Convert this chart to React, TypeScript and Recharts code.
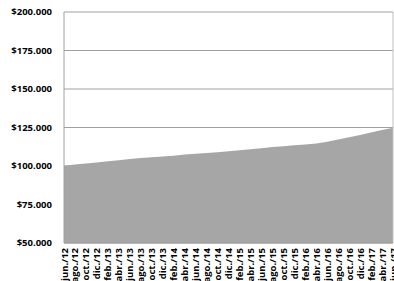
import { AreaChart, Area, XAxis, YAxis, CartesianGrid, ReferenceLine } from 'recharts';

// Bimonthly periods, jun./12 → jun./17
const periods = [
  'jun./12', 'ago./12', 'oct./12', 'dic./12',
  'feb./13', 'abr./13', 'jun./13', 'ago./13', 'oct./13', 'dic./13',
  'feb./14', 'abr./14', 'jun./14', 'ago./14', 'oct./14', 'dic./14',
  'feb./15', 'abr./15', 'jun./15', 'ago./15', 'oct./15', 'dic./15',
  'feb./16', 'abr./16', 'jun./16', 'ago./16', 'oct./16', 'dic./16',
  'feb./17', 'abr./17', 'jun./17',
];

// Portfolio value (in $)
const values = [
  100200, 100900, 101600, 102300,
  103100, 103800, 104600, 105200, 105700, 106200,
  106700, 107400, 107900, 108400, 109000, 109600,
  110200, 110900, 111600, 112300, 112900, 113400,
  113900, 114600, 115800, 117200, 118700, 120200,
  121700, 123300, 124900,
];

const yTicks = [50000, 75000, 100000, 125000, 150000, 175000, 200000];

const data = periods.map((p, i) => ({ period: p, value: values[i] }));

const FONT = '"Open Sans", "DejaVu Sans", sans-serif';

const fmtMoney = (v: number) => '$' + v.toLocaleString('de-DE');

function RotatedTick({ x, y, payload }: any) {
  return (
    <text
      x={x}
      y={y}
      transform={`rotate(-90, ${x}, ${y})`}
      textAnchor="end"
      dominantBaseline="central"
      fontFamily={FONT}
      fontSize={9.5}
      fontWeight={700}
      fill="#000"
    >
      {payload.value}
    </text>
  );
}

export default function App() {
  return (
    <div style={{ position: 'absolute', left: 0, top: 0, width: 394, height: 281, overflow: 'hidden', background: '#fff' }}>
      <AreaChart width={394} height={281} data={data} margin={{ top: 12, right: 1, bottom: 0, left: 0 }}>
        <CartesianGrid vertical={false} stroke="#a0a0a0" />
        <XAxis
          dataKey="period"
          interval={0}
          height={38}
          tickLine={false}
          axisLine={{ stroke: '#a0a0a0' }}
          tick={<RotatedTick />}
          tickSize={0}
          tickMargin={5}
        />
        <YAxis
          width={64}
          domain={[50000, 200000]}
          ticks={yTicks}
          tickFormatter={fmtMoney}
          tickLine={false}
          axisLine={{ stroke: '#a0a0a0' }}
          tickSize={6}
          tickMargin={6}
          tick={{ fontFamily: FONT, fontSize: 9.5, fontWeight: 700, fill: '#000' }}
        />
        <ReferenceLine x="jun./17" stroke="#c0c0c0" />
        <Area
          type="linear"
          dataKey="value"
          stroke="none"
          fill="#a6a6a6"
          fillOpacity={1}
          isAnimationActive={false}
        />
      </AreaChart>
    </div>
  );
}
